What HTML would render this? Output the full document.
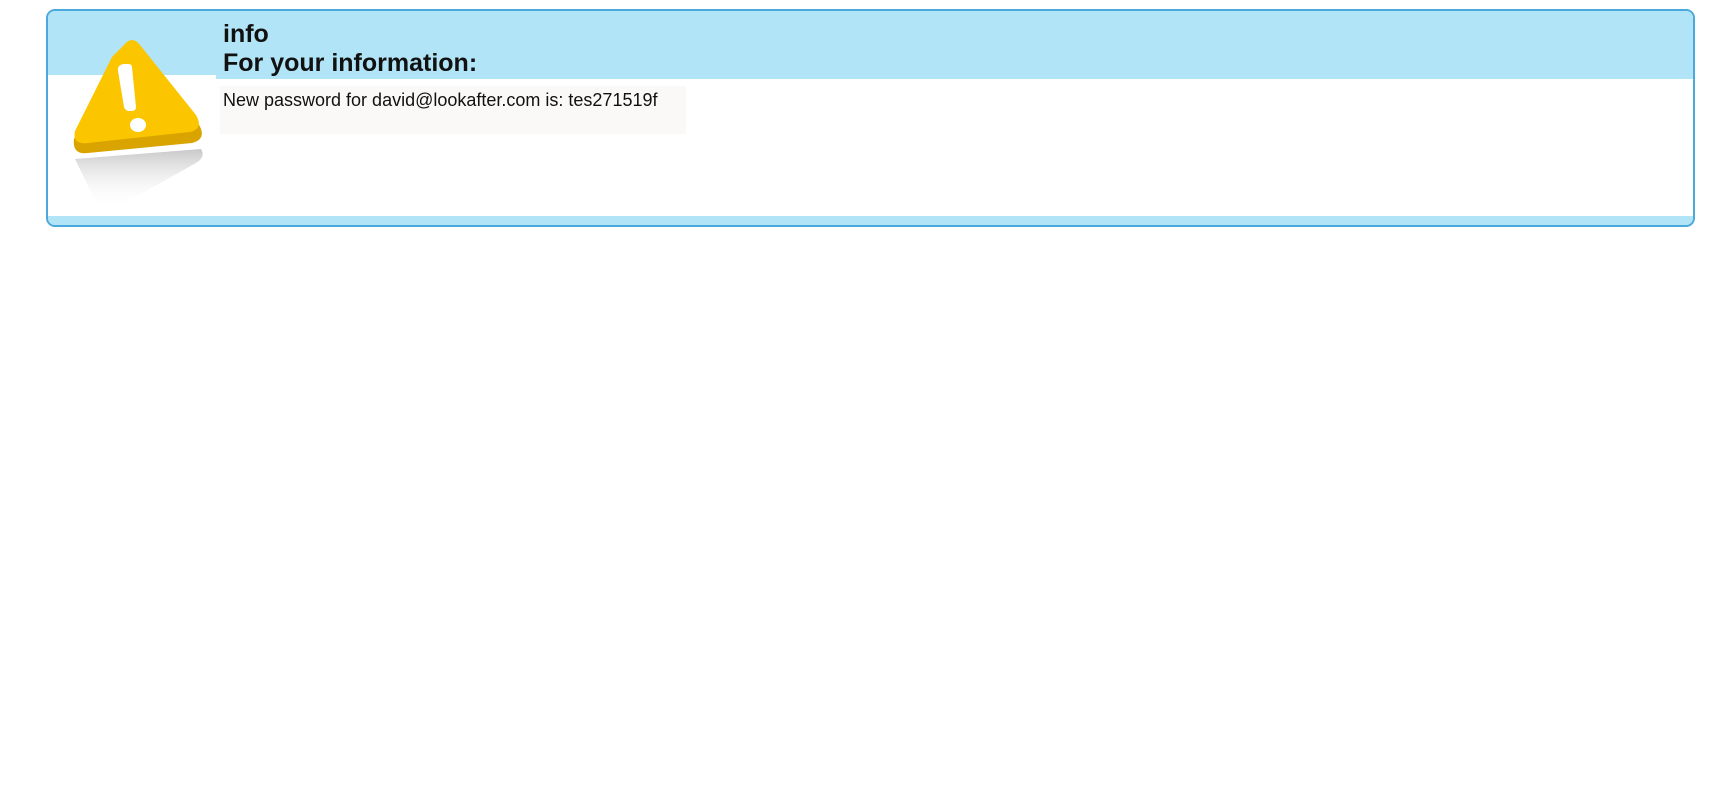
<!DOCTYPE html>
<html><head><style>
body{margin:0;background:#fff;width:1724px;height:800px;position:relative;font-family:"Liberation Sans",Arial,sans-serif;}
.box{position:absolute;left:46px;top:9px;width:1645px;height:214px;border:2px solid #4aa8dc;border-radius:9px;overflow:hidden;background:#fff;}
.hd{position:absolute;left:168px;top:0;right:0;height:68px;background:#b1e4f6;}
.hl{position:absolute;left:0;top:0;width:168px;height:64px;background:#b1e4f6;}
.ft{position:absolute;left:0;right:0;bottom:0;height:9px;background:#b1e4f6;}
.t1{position:absolute;left:175px;top:9px;font-weight:bold;font-size:25px;color:#111;line-height:29px;}
.body{position:absolute;left:172px;top:75px;width:466px;height:48px;background:#faf9f7;}
.bt{position:absolute;left:175px;top:79px;font-size:18px;color:#111;}
</style></head><body>
<div class="box">
<div class="hd"></div>
<div class="hl"></div>
<div class="ft"></div>
<svg style="position:absolute;left:0;top:0" width="170" height="210">
<defs><linearGradient id="r" x1="0" y1="0" x2="0" y2="1"><stop offset="0" stop-color="#c8c8c8"/><stop offset="1" stop-color="#fff" stop-opacity="0"/></linearGradient></defs>
<path d="M27 148 L153 138 Q158 146 148 152 L70 196 Q55 200 45 185 Z" fill="url(#r)"/>
<path d="M76 38 Q84 28 92 38 L150 112 Q160 128 144 132 L40 142 Q24 144 26 128 L64 50 Z" fill="#d9a400"/>
<path d="M76 34 Q84 24 92 34 L148 104 Q156 118 142 121 L40 132 Q24 134 27 120 L64 46 Z" fill="#fbc600"/>
<path d="M84 56 L88 96 Q88 100 84 100 L80 100 Q77 99 76 96 L70 60 Q69 54 76 53 L80 53 Q84 53 84 56Z" fill="#fff"/>
<ellipse cx="90" cy="114" rx="8" ry="7" fill="#fff"/>
</svg>
<div class="t1">info<br>For your information:</div>
<div class="body"></div>
<div class="bt">New password for david@lookafter.com is: tes271519f</div>
</div>
</body></html>
